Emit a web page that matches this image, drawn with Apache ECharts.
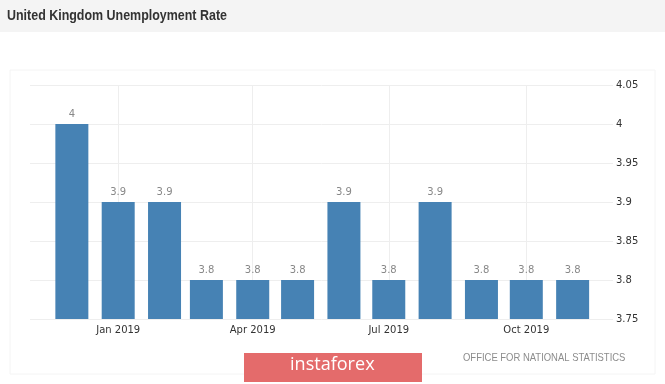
<!DOCTYPE html>
<html>
<head>
<meta charset="utf-8">
<script src="https://cdn.jsdelivr.net/npm/echarts@6/dist/echarts.min.js"></script>
<style>
html,body{margin:0;padding:0;background:#fff;}
#chart{width:665px;height:384px;}
</style>
</head>
<body>
<div id="chart"></div>
<script>
// Data
const months = ['2018-12-01','2019-01-01','2019-02-01','2019-03-01','2019-04-01','2019-05-01','2019-06-01','2019-07-01','2019-08-01','2019-09-01','2019-10-01','2019-11-01'];
const rates = [4, 3.9, 3.9, 3.8, 3.8, 3.8, 3.9, 3.8, 3.9, 3.8, 3.8, 3.8];
const xTickDates = ['2019-01-01','2019-04-01','2019-07-01','2019-10-01'];
const monthNames = ['Jan','Feb','Mar','Apr','May','Jun','Jul','Aug','Sep','Oct','Nov','Dec'];
const yTicks = {min: 3.75, max: 4.05, step: 0.05};

function toTime(s, extraDays) {
  const p = s.split('-').map(Number);
  return new Date(p[0], p[1] - 1, p[2] + (extraDays || 0)).getTime();
}
const xTickValues = xTickDates.map(d => toTime(d));

const chart = echarts.init(document.getElementById('chart'));
const option = {
  animation: false,
  backgroundColor: '#fff',
  graphic: [
    {type: 'rect', x: 0, y: 0, shape: {width: 665, height: 32}, style: {fill: '#f4f4f4'}, z: -1},
    {type: 'text', x: 7, y: 8, scaleX: 0.83, style: {text: 'United Kingdom Unemployment Rate', font: 'bold 15px "Liberation Sans", Arial, sans-serif', fill: '#333', verticalAlign: 'top'}},
    {type: 'rect', x: 10, y: 70, shape: {width: 645, height: 304}, style: {fill: 'none', stroke: '#f4f4f4', lineWidth: 1}, z: -1},
    {type: 'text', x: 463, y: 352, scaleX: 0.86, style: {text: 'OFFICE FOR NATIONAL STATISTICS', font: '11px "Liberation Sans", Arial, sans-serif', fill: '#8c8c8c', verticalAlign: 'top'}},
    {type: 'rect', x: 244, y: 353, shape: {width: 178, height: 29}, style: {fill: '#e46b6b'}},
    {type: 'text', x: 290, y: 355, scaleX: 0.95, style: {text: 'instaforex', font: '19px "Open Sans", sans-serif', fill: '#fff', verticalAlign: 'top'}}
  ],
  grid: {left: 30, right: 52, top: 85, bottom: 65},
  xAxis: {
    type: 'value',
    min: toTime(months[0], -28),
    max: toTime(months[months.length - 1], 27),
    axisLine: {show: false},
    axisTick: {show: false, customValues: xTickValues},
    splitLine: {show: true, lineStyle: {color: '#eeeeee'}},
    axisLabel: {
      customValues: xTickValues,
      color: '#333',
      fontFamily: '"DejaVu Sans", Verdana, sans-serif',
      fontSize: 10,
      margin: 6,
      formatter: function (v) {
        const d = new Date(v);
        return monthNames[d.getMonth()] + ' ' + d.getFullYear();
      }
    }
  },
  yAxis: {
    type: 'value',
    position: 'right',
    min: yTicks.min,
    max: yTicks.max,
    interval: yTicks.step,
    axisLine: {show: false},
    axisTick: {show: false},
    splitLine: {lineStyle: {color: '#eeeeee'}},
    axisLabel: {
      color: '#333',
      fontFamily: '"DejaVu Sans", Verdana, sans-serif',
      fontSize: 10,
      margin: 3
    }
  },
  series: [{
    type: 'bar',
    barWidth: 33,
    data: months.map((m, i) => [toTime(m), rates[i]]),
    itemStyle: {color: '#4682b4'},
    label: {
      show: true,
      position: 'top',
      distance: 5,
      color: '#888',
      fontFamily: '"DejaVu Sans", Verdana, sans-serif',
      fontSize: 10,
      formatter: p => String(p.value[1])
    }
  }]
};
chart.setOption(option);
</script>
</body>
</html>
